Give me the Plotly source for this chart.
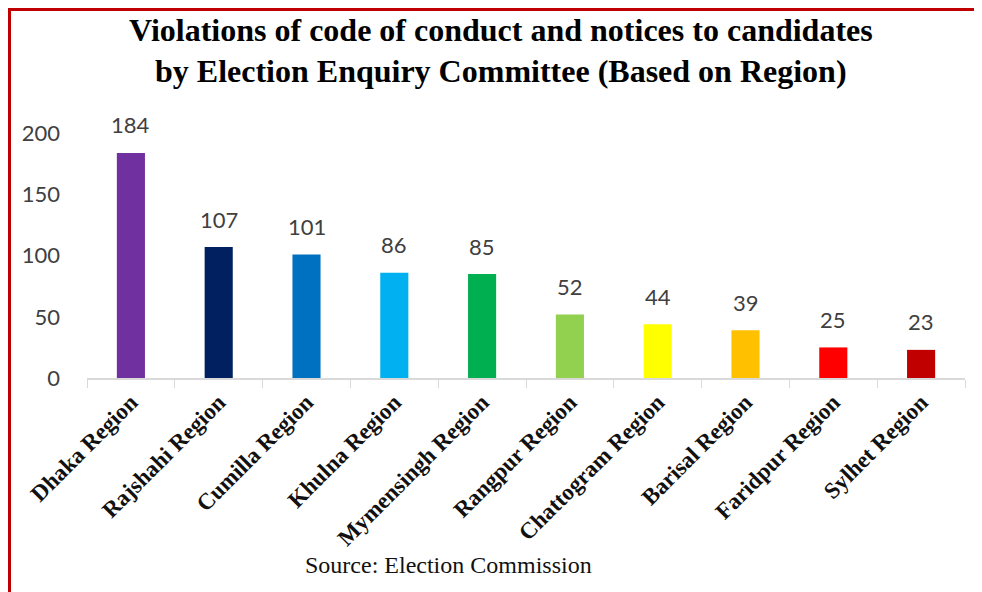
import plotly.graph_objects as go

regions = ["Dhaka Region", "Rajshahi Region", "Cumilla Region", "Khulna Region",
           "Mymensingh Region", "Rangpur Region", "Chattogram Region",
           "Barisal Region", "Faridpur Region", "Sylhet Region"]
values = [184, 107, 101, 86, 85, 52, 44, 39, 25, 23]
colors = ["#7030A0", "#002060", "#0070C0", "#00B0F0", "#00B050",
          "#92D050", "#FFFF00", "#FFC000", "#FF0000", "#C00000"]
ytick_vals = [0, 50, 100, 150, 200]

W, H = 982, 592
OFF = 8  # page body margin offset
L, R, T, B = 87 - OFF, 25, 115 - OFF, 222
pw, ph = W - L - R, H - T - B

def px(x):
    # screen x -> paper coordinate
    return (x - OFF - L) / pw

def py(y):
    # screen y -> paper coordinate
    return (H - B - (y - OFF)) / ph

fig = go.Figure(go.Bar(
    x=regions, y=values, marker_color=colors, marker_line_width=0,
    width=0.32, hoverinfo="x+y",
))

title_font = dict(family="Liberation Serif, serif", size=32, color="#000000", weight="bold")
label_font = dict(family="Lato, Carlito, sans-serif", size=22, color="#404040")

value_labels = [
    dict(text=str(v), x=r, y=v, xref="x", yref="y", yshift=28,
         xanchor="center", yanchor="middle", showarrow=False, font=label_font)
    for r, v in zip(regions, values)
]

fig.update_layout(
    width=W, height=H,
    margin=dict(l=L, r=R, t=T, b=B, autoexpand=False),
    paper_bgcolor="white", plot_bgcolor="white",
    showlegend=False,
    xaxis=dict(
        showgrid=False, showline=True, linecolor="#d9d9d9", linewidth=1.5,
        ticks="outside", tickson="boundaries", ticklen=8, tickcolor="#d9d9d9",
        tickangle=-45,
        tickfont=dict(family="Liberation Serif, serif", size=23, color="#111111", weight="bold"),
    ),
    yaxis=dict(
        range=[0, 215], tickvals=ytick_vals, showgrid=False, zeroline=False,
        showline=False, ticks="", ticklabelstandoff=26,
        tickfont=dict(family="Lato, Carlito, sans-serif", size=22, color="#404040"),
    ),
    annotations=value_labels + [
        dict(text="Violations of code of conduct and notices to candidates",
             xref="paper", yref="paper", x=px(501), y=py(30), xanchor="center",
             yanchor="middle", showarrow=False, font=title_font),
        dict(text="by Election Enquiry Committee (Based on Region)",
             xref="paper", yref="paper", x=px(501), y=py(71), xanchor="center",
             yanchor="middle", showarrow=False, font=title_font),
        dict(text="Source: Election Commission", xref="paper", yref="paper",
             x=px(448), y=py(565), xanchor="center", yanchor="middle", showarrow=False,
             font=dict(family="Liberation Serif, serif", size=24, color="#111111")),
    ],
    shapes=[
        dict(type="line", xref="paper", yref="paper", x0=px(9), x1=px(W + 20),
             y0=py(9.5), y1=py(9.5), line=dict(color="#C00000", width=3)),
        dict(type="line", xref="paper", yref="paper", x0=px(9.5), x1=px(9.5),
             y0=py(8), y1=py(H + 20), line=dict(color="#C00000", width=3)),
    ],
)

fig.write_html("out.html")
